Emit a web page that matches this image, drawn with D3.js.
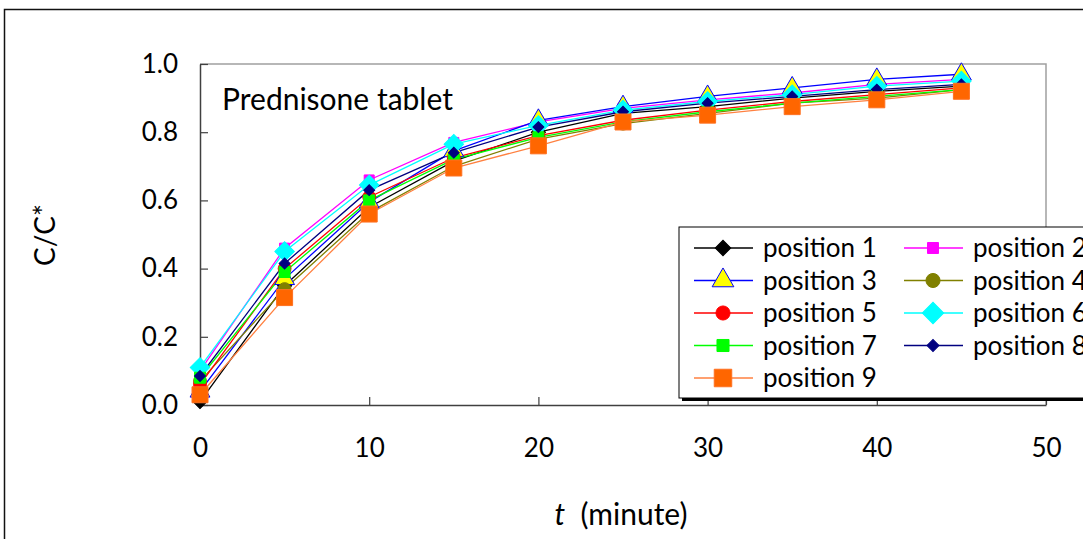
<!DOCTYPE html>
<html>
<head>
<meta charset="utf-8">
<script src="https://cdn.jsdelivr.net/npm/d3@7"></script>
<style>
  body { margin: 0; background: #fff; }
  text { font-family: Lato, "Open Sans", sans-serif; }
</style>
</head>
<body>
<div id="svgbody"></div>
<script>
let times = [0, 5, 10, 15, 20, 25, 30, 35, 40, 45];
let seriesNames = ['position 1', 'position 2', 'position 3', 'position 4', 'position 5',
                   'position 6', 'position 7', 'position 8', 'position 9'];
let pos1 = [0.01, 0.35, 0.58, 0.715, 0.80, 0.855, 0.875, 0.90, 0.92, 0.935];
let pos2 = [0.10, 0.46, 0.66, 0.77, 0.83, 0.87, 0.895, 0.915, 0.94, 0.955];
let pos3 = [0.04, 0.37, 0.595, 0.745, 0.835, 0.875, 0.905, 0.93, 0.955, 0.97];
let pos4 = [0.07, 0.34, 0.565, 0.70, 0.78, 0.825, 0.855, 0.885, 0.90, 0.925];
let pos5 = [0.06, 0.40, 0.61, 0.725, 0.79, 0.835, 0.865, 0.89, 0.91, 0.93];
let pos6 = [0.11, 0.45, 0.645, 0.765, 0.82, 0.865, 0.89, 0.91, 0.935, 0.95];
let pos7 = [0.08, 0.39, 0.60, 0.72, 0.785, 0.83, 0.86, 0.885, 0.905, 0.925];
let pos8 = [0.085, 0.415, 0.63, 0.74, 0.815, 0.86, 0.885, 0.905, 0.925, 0.94];
let pos9 = [0.03, 0.315, 0.56, 0.695, 0.76, 0.83, 0.85, 0.875, 0.895, 0.92];
let xTicks = [0, 10, 20, 30, 40, 50];
let yTicks = [0, 0.2, 0.4, 0.6, 0.8, 1.0];

window.onload = () => {
    draw();
};

function draw() {
    let allSeries = [pos1, pos2, pos3, pos4, pos5, pos6, pos7, pos8, pos9];
    // line colour, marker fill, marker stroke, symbol, size, rotation
    let styles = [
        {line: "#000000", fill: "#000000", stroke: "#000000", sym: d3.symbolSquare, size: 100, rot: 45},
        {line: "#ff00ff", fill: "#ff00ff", stroke: "#ff00ff", sym: d3.symbolSquare, size: 100, rot: 0},
        {line: "#0000ff", fill: "#ffff00", stroke: "#0000ff", sym: d3.symbolTriangle, size: 170, rot: 0},
        {line: "#808000", fill: "#808000", stroke: "#808000", sym: d3.symbolCircle, size: 130, rot: 0},
        {line: "#ff0000", fill: "#ff0000", stroke: "#ff0000", sym: d3.symbolCircle, size: 130, rot: 0},
        {line: "#00ffff", fill: "#00ffff", stroke: "#00ffff", sym: d3.symbolSquare, size: 190, rot: 45},
        {line: "#00ff00", fill: "#00ff00", stroke: "#00ff00", sym: d3.symbolSquare, size: 121, rot: 0},
        {line: "#000080", fill: "#000080", stroke: "#000080", sym: d3.symbolSquare, size: 60, rot: 45},
        {line: "#ff8040", fill: "#ff6600", stroke: "#ff7020", sym: d3.symbolSquare, size: 256, rot: 0}
    ];

    let svg = d3.select("#svgbody").append('svg').attr("width", 1083).attr("height", 539);

    // outer chart border
    svg.append("rect").attr("x", 4.5).attr("y", 9.5).attr("width", 1200).attr("height", 600)
        .attr("fill", "#fff").attr("stroke", "#111").attr("stroke-width", 1.5);

    let left = 200, right = 1046, top = 64, bottom = 405;
    let x = d3.scaleLinear().domain([0, 50]).range([left, right]);
    let y = d3.scaleLinear().domain([0, 1]).range([bottom, top]);

    // plot area frame (top + right in grey)
    svg.append("path")
        .attr("d", `M${left},${top}H${right}V${bottom}`)
        .attr("fill", "none").attr("stroke", "#a0a0a0").attr("stroke-width", 1.5);

    let yAxis = svg.append("g").attr("transform", `translate(${left},0)`)
        .call(d3.axisLeft(y).tickValues(yTicks).tickFormat(d3.format(".1f"))
            .tickSizeInner(-8).tickSizeOuter(0).tickPadding(22));
    let xAxis = svg.append("g").attr("transform", `translate(0,${bottom})`)
        .call(d3.axisBottom(x).tickValues(xTicks).tickFormat(d3.format("d"))
            .tickSizeInner(-8).tickSizeOuter(0).tickPadding(34));
    [xAxis, yAxis].forEach(a => {
        a.select(".domain").attr("stroke", "#404040").attr("stroke-width", 1.5);
        a.selectAll(".tick line").attr("stroke", "#404040").attr("stroke-width", 1.2);
        a.selectAll("text").attr("font-size", "26px").attr("fill", "#000")
            .attr("font-family", "Lato, 'Open Sans', sans-serif");
    });

    // series lines
    let line = d3.line().x((d, i) => x(times[i])).y(d => y(d));
    allSeries.forEach((s, k) => {
        svg.append("path").datum(s)
            .attr("d", line)
            .attr("fill", "none")
            .attr("stroke", styles[k].line)
            .attr("stroke-width", 1.3);
    });
    // markers
    allSeries.forEach((s, k) => {
        svg.append("g").selectAll("path").data(s).enter().append("path")
            .attr("transform", (d, i) => `translate(${x(times[i])},${y(d)}) rotate(${styles[k].rot})`)
            .attr("d", d3.symbol().type(styles[k].sym).size(styles[k].size))
            .attr("fill", styles[k].fill)
            .attr("stroke", styles[k].stroke)
            .attr("stroke-width", 1);
    });

    svg.append("text").attr("x", 222).attr("y", 110)
        .attr("font-size", "30px").attr("fill", "#000")
        .text("Prednisone tablet");

    // axis titles
    let xt = svg.append("text").attr("x", 621).attr("y", 525)
        .attr("text-anchor", "middle").attr("font-size", "30px").attr("fill", "#000");
    xt.append("tspan").attr("font-style", "italic").text("t");
    xt.append("tspan").text("\u00a0 (minute)");

    svg.append("text")
        .attr("transform", "translate(55,235) rotate(-90)")
        .attr("text-anchor", "middle").attr("font-size", "28px").attr("fill", "#000")
        .text("C/C*");

    // legend
    let lg = svg.append("g").attr("transform", "translate(679,227)");
    lg.append("rect").attr("x", 3).attr("y", 3).attr("width", 500).attr("height", 171).attr("fill", "#000");
    lg.append("rect").attr("x", 0).attr("y", 0).attr("width", 500).attr("height", 171)
        .attr("fill", "#fff").attr("stroke", "#000").attr("stroke-width", 1);

    let items = lg.selectAll(".item").data(seriesNames).enter().append("g")
        .attr("class", "item")
        .attr("transform", (d, i) => `translate(${(i % 2) * 210},${21 + Math.floor(i / 2) * 32.5})`);
    items.append("line").attr("x1", 15).attr("x2", 74).attr("y1", 0).attr("y2", 0)
        .attr("stroke", (d, i) => styles[i].line).attr("stroke-width", 1.3);
    items.append("path")
        .attr("transform", (d, i) => `translate(44,0) rotate(${styles[i].rot})`)
        .attr("d", (d, i) => d3.symbol().type(styles[i].sym).size(styles[i].size * 1.2)())
        .attr("fill", (d, i) => styles[i].fill)
        .attr("stroke", (d, i) => styles[i].stroke);
    items.append("text").attr("x", 84).attr("y", 9)
        .attr("font-size", "26px").attr("fill", "#000")
        .text(d => d);
}
</script>
</body>
</html>
